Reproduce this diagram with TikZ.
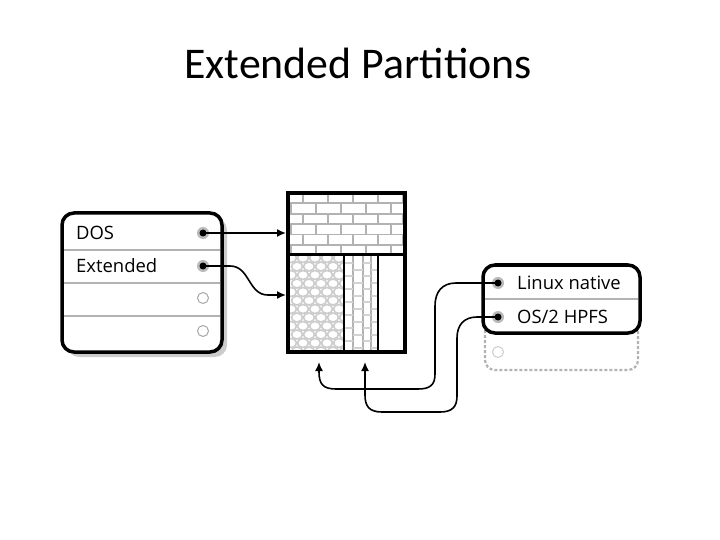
\documentclass[tikz,border=0pt]{standalone}
\usepackage{fontspec}
\setmainfont{Open Sans}
\newfontfamily\titlefont{Carlito}
\usetikzlibrary{arrows.meta}

\tikzset{
  slot/.style={circle, inner sep=0pt, minimum size=12bp, fill=gray!55,
    path picture={\fill[black] (path picture bounding box.center) circle (3.5bp);}},
  freeslot/.style={circle, inner sep=0pt, minimum size=11bp, draw=gray!70, line width=1bp, fill=white},
  label/.style={anchor=west, inner sep=0pt, font=\fontsize{18.5}{20}\selectfont},
  conn/.style={line width=1.6bp, -{Latex[length=9bp,width=8bp]}},
  sep/.style={gray!60, line width=1.2bp},
  brick/.style={gray!60, line width=1.8bp}
}

\begin{document}
\begin{tikzpicture}[x=1bp,y=-1bp]
\useasboundingbox (0,0) rectangle (720,540);

% title
\node[font=\titlefont\fontsize{44}{50}\selectfont, anchor=base] (title) at (358,79) {Extended Partitions};

% partition table (left)
\fill[gray!40, rounded corners=12bp] (67,218) rectangle (227,357);
\draw[fill=white, line width=3.5bp, rounded corners=12bp] (62,213) rectangle (222,352);
\foreach \y in {250,283,316}
  \draw[sep] (64,\y) -- (220,\y);
\node[label] (doslbl) at (76,233) {DOS};
\node[label] (extlbl) at (76,266) {Extended};
\node[slot] (dos) at (203,233) {};
\node[slot] (ext) at (203,266) {};
\node[freeslot] (free1) at (203,298) {};
\node[freeslot] (free2) at (203,331) {};

% disk block (middle)
\coordinate (top) at (286,233);
\coordinate (lat) at (286,295);
\begin{scope}
  \clip (288,193) rectangle (405,255);
  \foreach \r in {0,...,5} {
    \pgfmathsetmacro{\ya}{193+\r*10.4}
    \pgfmathsetmacro{\yb}{\ya+10.4}
    \draw[brick] (288,\yb) -- (405,\yb);
    \pgfmathsetmacro{\off}{mod(\r,2)==0 ? 303 : 316}
    \foreach \k in {-1,0,1,2,3,4}
      \draw[brick] (\off+25*\k,\ya) -- (\off+25*\k,\yb);
  }
\end{scope}
\begin{scope}
  \clip (288,255) rectangle (344,352);
  \foreach \r in {0,...,11} {
    \pgfmathsetmacro{\yy}{258+\r*8.5}
    \pgfmathsetmacro{\xo}{mod(\r,2)==0 ? 291 : 297}
    \foreach \k in {0,...,5}
      \draw[gray!40, line width=1.6bp] (\xo+12*\k,\yy) ellipse (5.5bp and 4.5bp);
  }
\end{scope}
\begin{scope}
  \clip (344,255) rectangle (378,352);
  \foreach \x in {353,363,371}
    \draw[gray!60, line width=2bp] (\x,255) -- (\x,352);
  \foreach \c/\xa/\xb in {0/344/353,1/353/363,0/363/371,1/371/378}
    \foreach \k in {0,...,7} {
      \pgfmathsetmacro{\yy}{263+\k*13+\c*6.5}
      \draw[gray!35, line width=2bp] (\xa,\yy) -- (\xb,\yy);
    }
\end{scope}
\draw[line width=2.5bp] (344,255) -- (344,352);
\draw[line width=2.5bp] (378,255) -- (378,352);
\draw[line width=3bp] (288,255) -- (405,255);
\draw[line width=4bp] (288,193) rectangle (405,352);
\coordinate (p1) at (319,362);
\coordinate (p2) at (365,362);

% extended partition table (right)
\draw[gray!60, dashed, dash pattern=on 3bp off 2bp, line width=2.2bp, rounded corners=10bp]
  (485,325) -- (485,370) -- (638,370) -- (638,325);
\draw[fill=white, line width=3.5bp, rounded corners=12bp] (483,265) rectangle (640,333);
\draw[sep] (485,299) -- (638,299);
\node[label] (linuxlbl) at (517,283) {Linux native};
\node[label] (hpfslbl) at (517,317) {OS/2 HPFS};
\node[slot] (linux) at (498,283) {};
\node[slot] (hpfs) at (498,317) {};
\node[freeslot, draw=gray!40] (free3) at (498,352) {};

% connectors
\draw[conn] (dos.center) -- (top);
\draw[conn] (ext.center) -- (230,266) .. controls (250,266) and (248,295) .. (268,295) -- (lat);
\draw[conn] (linux.center) -- (456,283) .. controls (442,283) and (435,292) .. (435,306)
  -- (435,374) .. controls (435,385) and (430,389) .. (418,389) -- (336,389)
  .. controls (323,389) and (319,384) .. (319,372) -- (p1);
\draw[conn] (hpfs.center) -- (477,317) .. controls (464,317) and (457,325) .. (457,338)
  -- (457,396) .. controls (457,407) and (452,412) .. (440,412) -- (382,412)
  .. controls (369,412) and (365,406) .. (365,395) -- (p2);
\end{tikzpicture}
\end{document}
